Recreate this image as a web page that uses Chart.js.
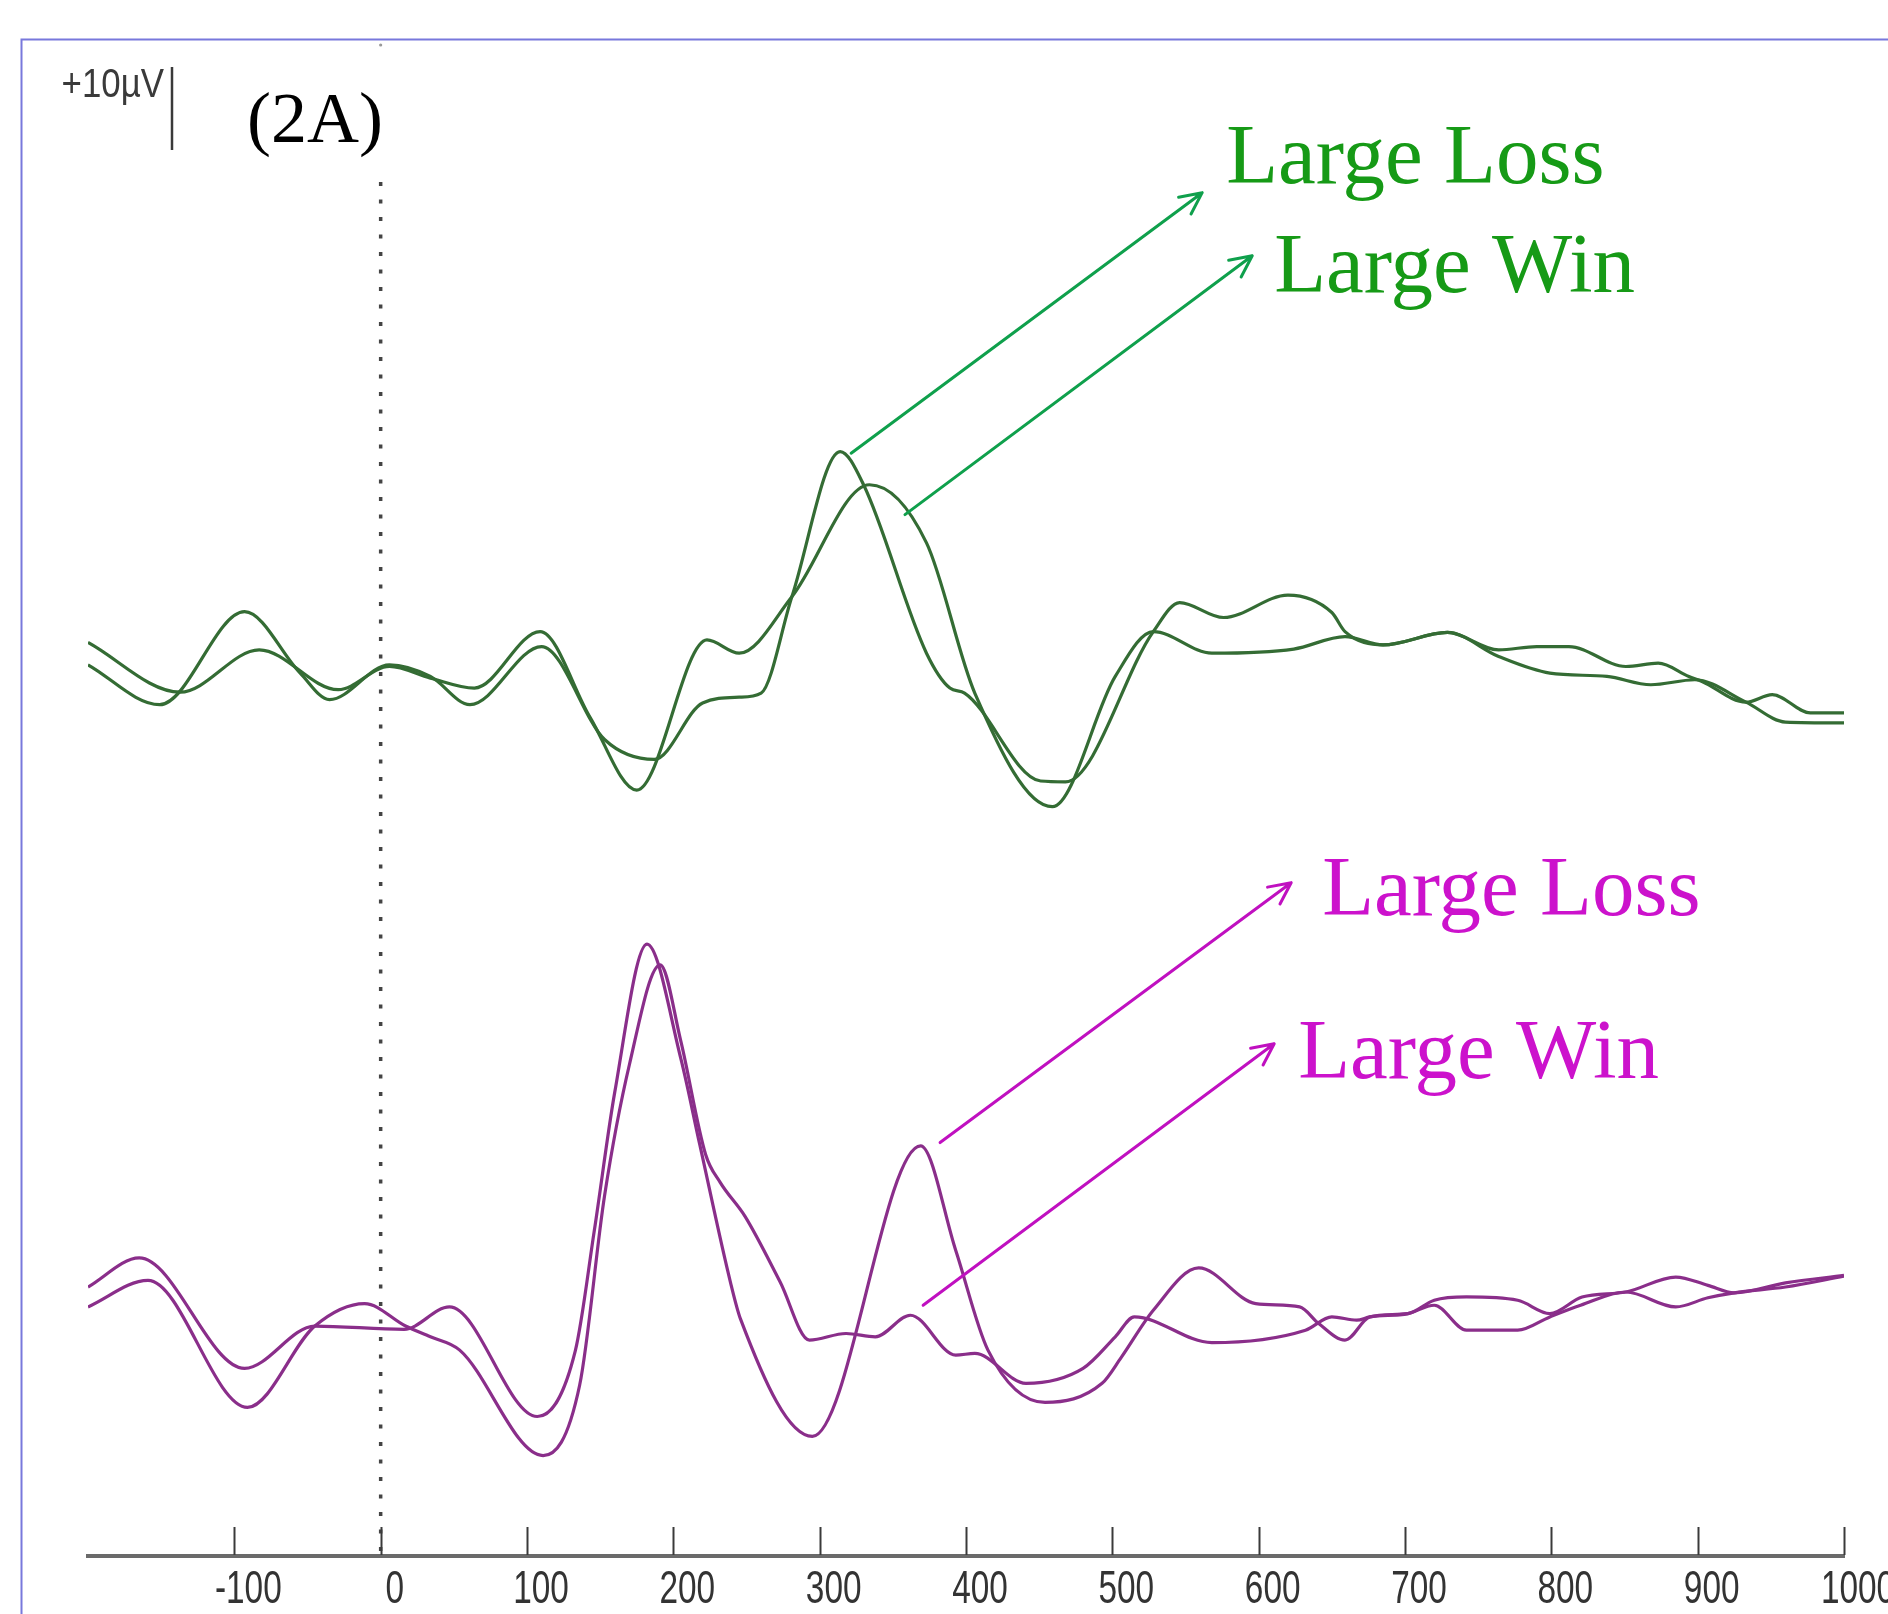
<!DOCTYPE html>
<html>
<head>
<meta charset="utf-8">
<title>ERP waveforms (2A)</title>
<script src="https://cdn.jsdelivr.net/npm/chart.js@4.4.1/dist/chart.umd.min.js"></script>
<style>
  html, body { margin: 0; padding: 0; background: #ffffff; }
  #wrap { width: 1888px; height: 1614px; position: relative; }
  canvas { display: block; }
</style>
</head>
<body>
<div id="wrap"><canvas id="erp" width="1888" height="1614"></canvas></div>
<script>
// Time axis tick labels (ms)
const TICK_MS = [-100, 0, 100, 200, 300, 400, 500, 600, 700, 800, 900, 1000];

// Upper pair of traces (green), amplitude in µV
const UPPER_LOSS_MS = [-200,-151,-93,-55,-35,6,34,61,110,153,187,220,245,260,281,314,330,373,389,399,451,468,528,546,576,620,650,659,685,729,764,790,812,851,873,894,903,933,951,977,1000];
const UPPER_LOSS_UV = [0.0,-4.8,6.4,-1.0,-4.2,0.0,-1.4,-4.8,2.2,-9.0,-11.4,-4.6,-3.9,-3.4,8.2,25.7,21.7,1.4,-2.8,-3.4,-14.0,-14.1,4.0,7.5,5.7,8.4,6.3,4.0,2.4,3.9,1.8,2.2,2.2,-0.2,0.2,-1.4,-2.0,-4.5,-3.6,-5.8,-5.8];

const UPPER_WIN_MS = [-200,-137,-83,-29,6,34,64,109,143,175,223,245,281,334,373,406,459,502,528,568,624,659,685,729,764,799,838,868,898,933,960,1000];
const UPPER_WIN_UV = [2.7,-3.3,1.8,-3.0,-0.2,-1.6,-2.8,4.0,-6.3,-15.1,3.0,1.4,8.2,21.7,14.7,-3.4,-17.1,-1.4,4.0,1.4,1.9,3.4,2.4,3.9,1.0,-1.0,-1.4,-2.4,-1.8,-4.5,-6.9,-7.0];

// Lower pair of traces (magenta), amplitude in µV
const LOWER_LOSS_MS = [-200,-165,-93,-45,16,47,107,133,146,160,182,205,218,239,246,295,369,393,415,454,493,506,528,559,598,628,641,659,676,702,720,742,777,799,821,851,885,907,925,960,1000];
const LOWER_LOSS_UV = [4.0,7.5,-5.8,-0.7,-1.1,1.6,-11.6,-3.7,10.8,27.5,45.3,31.6,21.2,4.6,0.1,-14.0,21.0,8.4,-3.6,-9.9,-7.6,-4.5,1.2,6.3,2.0,1.6,-0.4,-2.4,0.4,0.8,2.4,2.8,2.4,0.8,2.8,3.4,5.2,4.2,3.3,4.5,5.4];

const LOWER_WIN_MS = [-200,-159,-91,-45,-11,17,34,54,111,136,153,170,191,205,222,232,249,273,293,318,338,362,393,406,441,480,502,515,568,632,650,667,676,702,720,742,777,799,820,851,885,907,925,960,1000];
const LOWER_WIN_UV = [1.6,4.8,-10.5,-0.7,2.0,-0.7,-2.0,-3.6,-16.3,-7.8,15.0,30.8,42.8,33.7,20.0,16.6,12.5,4.6,-2.4,-1.6,-2.0,0.6,-4.2,-4.0,-7.6,-5.8,-2.0,0.4,-2.7,-1.2,0.4,0.0,0.4,0.8,1.8,-1.2,-1.2,0.4,1.8,3.4,1.6,2.7,3.3,4.0,5.3];

// Condition callouts: arrow tail/head and label anchor in (ms, µV) of the trace pair
const CALLOUTS = [
  { axis: 'yUpper', text: 'Large Loss', textColor: '#169a16', arrowColor: '#0fa04c', from: [321.5, 25.5], to: [561.4, 56.9], at: [577.8, 58.1] },
  { axis: 'yUpper', text: 'Large Win',  textColor: '#169a16', arrowColor: '#0fa04c', from: [358.3, 18.1], to: [595.6, 49.3], at: [610.6, 44.9] },
  { axis: 'yLower', text: 'Large Loss', textColor: '#cc12cc', arrowColor: '#c010c0', from: [382.3, 21.4], to: [622.2, 52.7], at: [643.4, 48.8] },
  { axis: 'yLower', text: 'Large Win',  textColor: '#cc12cc', arrowColor: '#c010c0', from: [370.7, 1.8],  to: [610.6, 33.3], at: [627.0, 29.2] }
];

const SANS = "'Liberation Sans', Arial, sans-serif";
const SERIF = "'Liberation Serif', 'Times New Roman', serif";

function toPoints(xs, ys) {
  return xs.map((x, i) => ({ x: x, y: ys[i] }));
}

// condensed text: the font is squeezed horizontally around its anchor
function narrowText(ctx, text, x, y, size, squeeze, align) {
  ctx.save();
  ctx.font = size + 'px ' + SANS;
  ctx.textAlign = align;
  ctx.textBaseline = 'alphabetic';
  ctx.translate(x, y);
  ctx.scale(squeeze, 1);
  ctx.fillText(text, 0, 0);
  ctx.restore();
}

function drawArrow(ctx, x1, y1, x2, y2, color) {
  const a = Math.atan2(y2 - y1, x2 - x1);
  const len = 24, spread = 0.45;
  ctx.save();
  ctx.strokeStyle = color;
  ctx.lineWidth = 3;
  ctx.lineCap = 'round';
  ctx.lineJoin = 'round';
  ctx.beginPath();
  ctx.moveTo(x1, y1);
  ctx.lineTo(x2, y2);
  ctx.moveTo(x2 - len * Math.cos(a - spread), y2 - len * Math.sin(a - spread));
  ctx.lineTo(x2, y2);
  ctx.lineTo(x2 - len * Math.cos(a + spread), y2 - len * Math.sin(a + spread));
  ctx.stroke();
  ctx.restore();
}

const erpDecor = {
  id: 'erpDecor',
  beforeDraw(chart) {
    const { ctx, width, height } = chart;
    ctx.save();
    ctx.fillStyle = '#ffffff';
    ctx.fillRect(0, 0, width, height);
    // panel frame (top and left edges)
    ctx.strokeStyle = '#7878dc';
    ctx.lineWidth = 2;
    ctx.beginPath();
    ctx.moveTo(21.5, height + 5);
    ctx.lineTo(21.5, 39.5);
    ctx.lineTo(width + 5, 39.5);
    ctx.stroke();
    ctx.restore();
  },
  beforeDatasetsDraw(chart) {
    const { ctx, chartArea } = chart;
    const x0 = chart.scales.x.getPixelForValue(0);
    ctx.save();
    // stimulus onset marker
    ctx.strokeStyle = '#444444';
    ctx.lineWidth = 3.5;
    ctx.setLineDash([4, 13.5]);
    ctx.beginPath();
    ctx.moveTo(x0, 182);
    ctx.lineTo(x0, chartArea.bottom);
    ctx.stroke();
    ctx.setLineDash([]);
    ctx.fillStyle = '#999';
    ctx.beginPath();
    ctx.arc(x0, 45, 1.6, 0, Math.PI * 2);
    ctx.fill();
    ctx.restore();
  },
  afterDraw(chart) {
    const { ctx, chartArea } = chart;
    const xs = chart.scales.x;
    ctx.save();

    // tick marks rising from the time axis, with condensed labels below
    ctx.strokeStyle = '#3a3a3a';
    ctx.lineWidth = 2;
    xs.ticks.forEach(t => {
      const px = Math.round(xs.getPixelForValue(t.value)) + 0.5;
      ctx.beginPath();
      ctx.moveTo(px, chartArea.bottom - 1);
      ctx.lineTo(px, chartArea.bottom - 29);
      ctx.stroke();
    });
    ctx.fillStyle = '#333333';
    xs.ticks.forEach(t => {
      const px = xs.getPixelForValue(t.value) + 14;
      narrowText(ctx, String(t.value), px, chartArea.bottom + 47, 47, 0.71, 'center');
    });

    // amplitude scale bar: +10 µV
    const yu = chart.scales.yUpper;
    const barLen = yu.getPixelForValue(0) - yu.getPixelForValue(10);
    ctx.strokeStyle = '#3a3a3a';
    ctx.lineWidth = 2.5;
    ctx.beginPath();
    ctx.moveTo(172, 67);
    ctx.lineTo(172, 67 + barLen);
    ctx.stroke();
    ctx.fillStyle = '#3a3a3a';
    narrowText(ctx, '+10\u00b5V', 164, 97, 41, 0.85, 'right');

    // panel label
    ctx.fillStyle = '#000000';
    ctx.font = '72px ' + SERIF;
    ctx.textAlign = 'left';
    ctx.textBaseline = 'alphabetic';
    ctx.fillText('(2A)', 247, 142);

    // condition callouts
    CALLOUTS.forEach(c => {
      const ys = chart.scales[c.axis];
      const x1 = xs.getPixelForValue(c.from[0]), y1 = ys.getPixelForValue(c.from[1]);
      const x2 = xs.getPixelForValue(c.to[0]), y2 = ys.getPixelForValue(c.to[1]);
      drawArrow(ctx, x1, y1, x2, y2, c.arrowColor);
      ctx.fillStyle = c.textColor;
      ctx.font = '85px ' + SERIF;
      ctx.textAlign = 'left';
      ctx.textBaseline = 'alphabetic';
      ctx.fillText(c.text, xs.getPixelForValue(c.at[0]), ys.getPixelForValue(c.at[1]));
    });
    ctx.restore();
  }
};

const GREEN_TRACE = '#346c34';
const MAGENTA_TRACE = '#8a2e8a';

new Chart(document.getElementById('erp').getContext('2d'), {
  type: 'line',
  data: {
    datasets: [
      { label: 'Large Loss', data: toPoints(UPPER_LOSS_MS, UPPER_LOSS_UV), yAxisID: 'yUpper', borderColor: GREEN_TRACE },
      { label: 'Large Win',  data: toPoints(UPPER_WIN_MS, UPPER_WIN_UV),   yAxisID: 'yUpper', borderColor: GREEN_TRACE },
      { label: 'Large Loss', data: toPoints(LOWER_LOSS_MS, LOWER_LOSS_UV), yAxisID: 'yLower', borderColor: MAGENTA_TRACE },
      { label: 'Large Win',  data: toPoints(LOWER_WIN_MS, LOWER_WIN_UV),   yAxisID: 'yLower', borderColor: MAGENTA_TRACE }
    ]
  },
  options: {
    responsive: false,
    animation: false,
    devicePixelRatio: 1,
    layout: { padding: { left: 88, right: 44, top: 40, bottom: 58 } },
    plugins: { legend: { display: false }, tooltip: { enabled: false } },
    elements: {
      point: { radius: 0, hoverRadius: 0 },
      line: { borderWidth: 3.2, cubicInterpolationMode: 'monotone', fill: false }
    },
    scales: {
      x: {
        type: 'linear',
        min: -200,
        max: 1000,
        afterBuildTicks: axis => { axis.ticks = TICK_MS.map(v => ({ value: v })); },
        grid: { display: false, drawTicks: false },
        border: { display: true, color: '#6a6a6a', width: 4 },
        ticks: { display: false }
      },
      yUpper: { type: 'linear', display: false, min: -107.4, max: 75.3 },
      yLower: { type: 'linear', display: false, min: -28.4, max: 154.2 }
    }
  },
  plugins: [erpDecor]
});
</script>
</body>
</html>
